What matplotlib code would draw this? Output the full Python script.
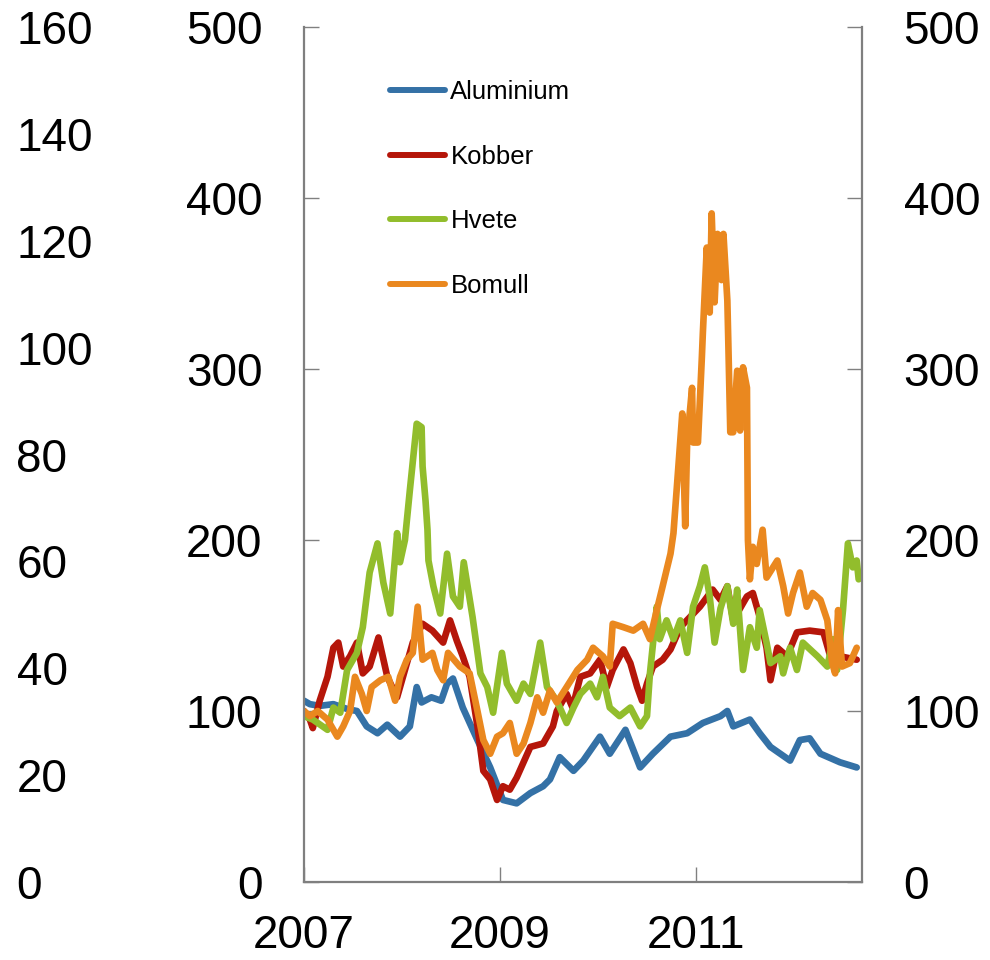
import matplotlib
matplotlib.use("Agg")
import matplotlib.pyplot as plt

plt.rcParams['font.family'] = ['Liberation Sans', 'DejaVu Sans']

# values (index, start 2007 = 100)
al_t = [2007.00, 2007.06, 2007.16, 2007.30, 2007.45, 2007.54, 2007.64, 2007.75, 2007.85, 2007.98,
        2008.08, 2008.15, 2008.20, 2008.30, 2008.40, 2008.46, 2008.52, 2008.62, 2008.77, 2008.90,
        2009.03, 2009.17, 2009.31, 2009.44, 2009.51, 2009.61, 2009.75, 2009.85, 2010.02, 2010.12,
        2010.28, 2010.43, 2010.56, 2010.74, 2010.91, 2011.07, 2011.25, 2011.32, 2011.38, 2011.55,
        2011.65, 2011.76, 2011.96, 2012.06, 2012.16, 2012.27, 2012.47, 2012.64]
al_v = [106, 104, 103, 104, 101, 100, 91, 87, 92, 85,
        91, 114, 105, 108, 106, 116, 119, 102, 83, 67,
        48, 46, 52, 56, 60, 73, 65, 71, 85, 75,
        89, 67, 75, 85, 87, 93, 97, 100, 91, 95,
        87, 79, 71, 83, 84, 75, 70, 67]

ko_t = [2007.00, 2007.06, 2007.09, 2007.16, 2007.24, 2007.30, 2007.35, 2007.40, 2007.47, 2007.54,
        2007.60, 2007.67, 2007.76, 2007.85, 2007.95, 2008.01, 2008.11, 2008.21, 2008.31, 2008.42,
        2008.49, 2008.56, 2008.62, 2008.69, 2008.77, 2008.83, 2008.90, 2008.97, 2009.03, 2009.10,
        2009.17, 2009.24, 2009.31, 2009.44, 2009.54, 2009.58, 2009.68, 2009.74, 2009.82, 2009.92,
        2010.02, 2010.09, 2010.15, 2010.26, 2010.33, 2010.40, 2010.45, 2010.50, 2010.56, 2010.66,
        2010.74, 2010.84, 2010.94, 2011.04, 2011.17, 2011.25, 2011.32, 2011.38, 2011.52, 2011.58,
        2011.65, 2011.72, 2011.76, 2011.83, 2011.93, 2012.03, 2012.16, 2012.30, 2012.37, 2012.47,
        2012.64]
ko_v = [100, 95, 90, 106, 120, 137, 140, 126, 132, 140,
        122, 126, 143, 120, 108, 120, 140, 151, 147, 140,
        153, 141, 132, 120, 91, 65, 60, 48, 56, 54,
        61, 70, 79, 81, 91, 100, 110, 102, 120, 122,
        130, 114, 124, 136, 128, 114, 106, 116, 126, 130,
        136, 149, 155, 161, 171, 165, 173, 153, 167, 169,
        155, 137, 118, 137, 132, 146, 147, 146, 132, 132,
        130]

hv_t = [2007.00, 2007.09, 2007.24, 2007.30, 2007.37, 2007.44, 2007.54, 2007.60, 2007.67, 2007.75,
        2007.81, 2007.88, 2007.95, 2007.98, 2008.03, 2008.08, 2008.15, 2008.20, 2008.21, 2008.24,
        2008.26, 2008.27, 2008.32, 2008.39, 2008.46, 2008.52, 2008.59, 2008.63, 2008.72, 2008.80,
        2008.87, 2008.93, 2009.02, 2009.07, 2009.17, 2009.24, 2009.31, 2009.41, 2009.48, 2009.58,
        2009.68, 2009.75, 2009.82, 2009.92, 2009.99, 2010.05, 2010.12, 2010.22, 2010.33, 2010.43,
        2010.50, 2010.53, 2010.60, 2010.63, 2010.70, 2010.77, 2010.84, 2010.91, 2010.97, 2011.04,
        2011.09, 2011.14, 2011.19, 2011.25, 2011.32, 2011.38, 2011.42, 2011.48, 2011.55, 2011.62,
        2011.65, 2011.72, 2011.76, 2011.86, 2011.89, 2011.96, 2012.03, 2012.09, 2012.24, 2012.34,
        2012.40, 2012.44, 2012.50, 2012.55, 2012.60, 2012.64, 2012.66]
hv_v = [97, 95, 89, 102, 99, 124, 134, 149, 181, 198,
        175, 157, 204, 187, 200, 229, 268, 266, 243, 223,
        206, 188, 173, 157, 192, 167, 161, 187, 155, 122,
        114, 99, 134, 116, 106, 116, 110, 140, 114, 106,
        93, 102, 110, 116, 108, 120, 102, 97, 102, 91,
        97, 122, 161, 142, 153, 142, 153, 134, 161, 173,
        184, 167, 140, 160, 173, 151, 171, 124, 149, 137,
        159, 140, 128, 132, 122, 137, 124, 140, 132, 126,
        142, 124, 159, 198, 184, 188, 177]

bo_t = [2007.00, 2007.06, 2007.14, 2007.24, 2007.34, 2007.40, 2007.47, 2007.52, 2007.59, 2007.64,
        2007.69, 2007.78, 2007.86, 2007.93, 2007.98, 2008.05, 2008.11, 2008.16, 2008.21, 2008.31,
        2008.36, 2008.42, 2008.47, 2008.59, 2008.69, 2008.77, 2008.83, 2008.90, 2008.97, 2009.03,
        2009.10, 2009.17, 2009.24, 2009.31, 2009.38, 2009.44, 2009.51, 2009.58, 2009.68, 2009.79,
        2009.89, 2009.95, 2010.05, 2010.12, 2010.15, 2010.26, 2010.36, 2010.46, 2010.53, 2010.60,
        2010.66, 2010.74, 2010.77, 2010.81, 2010.86, 2010.89, 2010.91, 2010.96, 2010.97, 2011.02,
        2011.06, 2011.07, 2011.11, 2011.14, 2011.16, 2011.19, 2011.22, 2011.26, 2011.28, 2011.32,
        2011.33, 2011.35, 2011.38, 2011.42, 2011.45, 2011.48, 2011.52, 2011.53, 2011.55, 2011.58,
        2011.62, 2011.68, 2011.72, 2011.83, 2011.89, 2011.94, 2011.99, 2012.06, 2012.13, 2012.19,
        2012.27, 2012.34, 2012.39, 2012.42, 2012.45, 2012.49, 2012.57, 2012.64]
bo_v = [100, 97, 100, 95, 85, 91, 100, 120, 110, 100,
        114, 118, 120, 106, 120, 130, 134, 161, 130, 134,
        124, 118, 134, 126, 122, 100, 83, 75, 85, 87,
        93, 75, 81, 93, 108, 99, 112, 105, 114, 124,
        130, 137, 132, 126, 151, 149, 147, 151, 142, 159,
        173, 192, 204, 235, 274, 208, 258, 289, 257, 257,
        307, 321, 371, 333, 391, 339, 379, 352, 379, 340,
        315, 263, 263, 299, 264, 301, 289, 200, 177, 196,
        186, 206, 178, 188, 173, 157, 169, 181, 161, 169,
        165, 153, 128, 122, 159, 126, 128, 137]

names = ['Aluminium', 'Kobber', 'Hvete', 'Bomull']
colors = ['#3471a6', '#b5160a', '#92bd2c', '#ea881f']
years = [2007, 2009, 2011]
left_ticks = [0, 20, 40, 60, 80, 100, 120, 140, 160]

fig = plt.figure(figsize=(9.9, 9.6), dpi=100)
rect = [304 / 990, 78 / 960, 558 / 990, 855 / 960]

# stray 0-160 scale at the far left
ax0 = fig.add_axes(rect)
ax0.set_ylim(0, 160)
ax0.set_yticks(left_ticks)
ax0.tick_params(axis='y', length=0, labelsize=33, pad=207)
for lab in ax0.get_yticklabels():
    lab.set_horizontalalignment('left')
ax0.set_xticks([])
for s in ax0.spines.values():
    s.set_visible(False)
ax0.patch.set_visible(False)

ax = fig.add_axes(rect)
ax.patch.set_visible(False)
series = [(al_t, al_v), (ko_t, ko_v), (hv_t, hv_v), (bo_t, bo_v)]
for (t, v), name, c in zip(series, names, colors):
    ax.plot(t, v, color=c, lw=4.8, label=name, solid_joinstyle='round', solid_capstyle='round')

ax.set_xlim(2007.0, 2012.694)
ax.set_ylim(0, 500)
ax.set_xticks(years)
ax.set_xticklabels([str(y) for y in years])
ax.set_yticks([0, 100, 200, 300, 400, 500])
ax.tick_params(axis='y', direction='in', left=True, right=True, labelleft=True, labelright=True,
               length=10.5, width=1, color='#808080', labelsize=33, pad=30)
ax.tick_params(axis='x', direction='in', length=10.5, width=1, color='#808080', labelsize=33, pad=23)
ax.spines['top'].set_visible(False)
for s in ['left', 'right', 'bottom']:
    ax.spines[s].set_color('#7f7f7f')
    ax.spines[s].set_linewidth(1.6)

leg = ax.legend(loc='upper left', bbox_to_anchor=(390 / 990, 1 - 80 / 960), bbox_transform=fig.transFigure,
                frameon=False, fontsize=18.5, handlelength=2.15, handletextpad=0.2, labelspacing=1.58,
                borderpad=0, borderaxespad=0)
for h in leg.get_lines():
    h.set_linewidth(4.3)

fig.savefig('out.png', dpi=100)
